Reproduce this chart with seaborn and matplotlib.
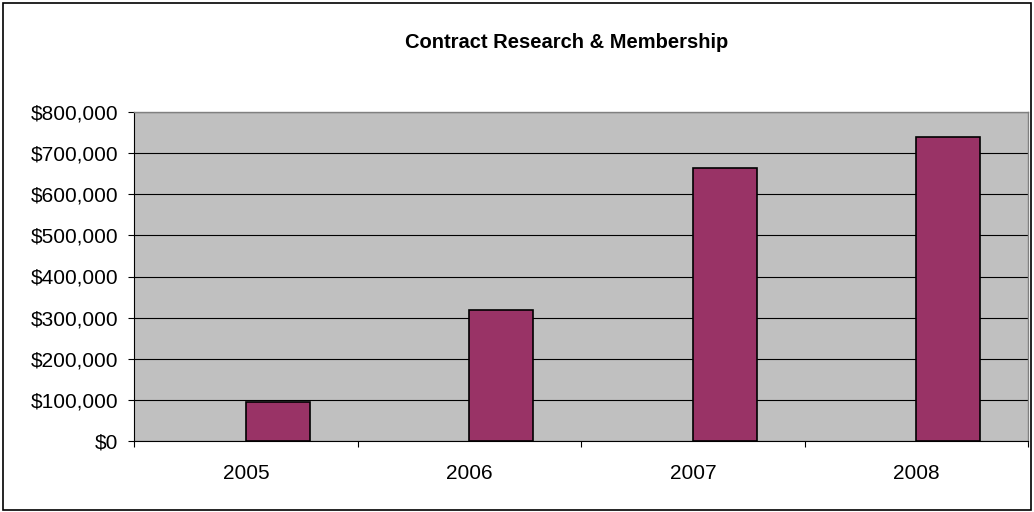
import matplotlib
matplotlib.use("Agg")
import matplotlib.pyplot as plt
from matplotlib.patches import Rectangle
from matplotlib.ticker import FuncFormatter, FixedLocator
import seaborn as sns
import pandas as pd
import numpy as np

# ---- data ----
years = ["2005", "2006", "2007", "2008"]
values = [95000, 318000, 663000, 738000]
series_names = ["(blank)", "Contract Research & Membership"]
title = "Contract Research & Membership"
y_ticks = [0, 100000, 200000, 300000, 400000, 500000, 600000, 700000, 800000]

df = pd.DataFrame({
    "year": years * 2,
    "series": [series_names[0]] * len(years) + [series_names[1]] * len(years),
    "value": [np.nan] * len(years) + values,
})

sns.set_theme(style="white")
plt.rcParams["font.family"] = ["Liberation Sans", "DejaVu Sans"]

W, H = 1034, 512
fig = plt.figure(figsize=(W / 100, H / 100), dpi=100)
fig.patch.set_facecolor("white")

left, right, top, bottom = 134.3, 1028, 111.7, 441.3
ax = fig.add_axes([left / W, 1 - bottom / H, (right - left) / W, (bottom - top) / H])
ax.set_facecolor("#C0C0C0")

bar_color = "#993366"
sns.barplot(data=df, x="year", y="value", hue="series", order=years,
            hue_order=series_names,
            palette={series_names[0]: bar_color, series_names[1]: bar_color},
            width=0.5714, dodge=True, edgecolor="black", linewidth=1.2,
            saturation=1, legend=False, ax=ax, zorder=3)

ax.set_xlim(-0.5, len(years) - 0.5)
ax.set_ylim(0, 800000)
ax.set_yticks(y_ticks)
ax.yaxis.set_major_formatter(FuncFormatter(lambda v, p: f"${v:,.0f}"))

# gridlines
ax.grid(axis="y", color="black", linewidth=0.8, zorder=1)
ax.set_axisbelow(True)
ax.grid(axis="x", visible=False)

# x ticks: boundaries as major ticks, labels at centres as minor
ax.xaxis.set_major_locator(FixedLocator(np.arange(-0.5, len(years), 1.0)))
ax.xaxis.set_major_formatter(FuncFormatter(lambda v, p: ""))
ax.set_xticks(np.arange(len(years)), labels=years, minor=True)
ax.tick_params(axis="x", which="major", direction="out", length=4.5, width=0.8,
               color="black", bottom=True)
ax.tick_params(axis="x", which="minor", length=0, pad=16, labelsize=15,
               labelcolor="black", bottom=True)
ax.tick_params(axis="y", which="major", direction="out", length=4.5, width=0.8,
               color="black", left=True, pad=7, labelsize=15, labelcolor="black")

ax.set_xlabel("")
ax.set_ylabel("")

for side in ["left", "bottom"]:
    ax.spines[side].set_visible(True)
    ax.spines[side].set_color("black")
    ax.spines[side].set_linewidth(0.8)
for side in ["top", "right"]:
    ax.spines[side].set_visible(True)
    ax.spines[side].set_color("#808080")
    ax.spines[side].set_linewidth(1.0)

fig.text(567 / W, 1 - 43 / H, title, ha="center", va="center",
         fontsize=14.5, fontweight="bold", color="black")

# outer chart border
fig.patches.append(Rectangle((3 / W, 2 / H), 1028 / W, 507 / H,
                             transform=fig.transFigure, fill=False,
                             edgecolor="black", linewidth=1.2))

fig.savefig("out.png", dpi=100, facecolor="white")
